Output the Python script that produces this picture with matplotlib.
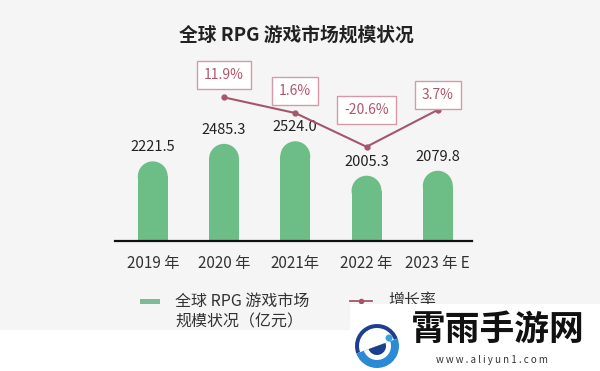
import matplotlib
matplotlib.use("Agg")
import matplotlib.pyplot as plt
from matplotlib.patches import Rectangle, Ellipse, Circle, Wedge
from matplotlib.lines import Line2D

plt.rcParams['font.family'] = ['Noto Sans CJK SC', 'DejaVu Sans']

# ---- data ----
categories = ["2019 年", "2020 年", "2021年", "2022 年", "2023 年 E"]
market_size = [2221.5, 2485.3, 2524.0, 2005.3, 2079.8]
growth_cats = [1, 2, 3, 4]
growth_rate = [11.9, 1.6, -20.6, 3.7]
growth_labels = ["11.9%", "1.6%", "-20.6%", "3.7%"]
title = "全球 RPG 游戏市场规模状况"
legend_bar = "全球 RPG 游戏市场\n规模状况（亿元）"
legend_line = "增长率"

# ---- style / layout ----
W, H = 600, 371
bar_color = "#6dbe86"
line_color = "#a5566c"
label_box_y = [0.917, 0.829, 0.724, 0.807]  # axes fraction positions of % boxes

fig = plt.figure(figsize=(6, 3.71), dpi=100)
fig.patch.set_facecolor("#f5f5f5")
fig.patches.append(Rectangle((0, 0), 1, 1 - 330 / H, transform=fig.transFigure,
                             facecolor="white", edgecolor="none", zorder=0))

ax_left, ax_right = 115 / W, 472 / W
ax_bottom, ax_top = 1 - 241 / H, 1 - 60 / H
ax = fig.add_axes([ax_left, ax_bottom, ax_right - ax_left, ax_top - ax_bottom])
ax.set_facecolor("none")
ax.set_xlim(-0.53, 4.48)
ylo, yhi = 1022, 3748
ax.set_ylim(ylo, yhi)

x = list(range(len(categories)))
bar_w = 0.42
px_per_unit_y = 181 / (yhi - ylo)
cap_h = (15 / px_per_unit_y)
ax.bar(x, [v - cap_h for v in market_size], width=bar_w, color=bar_color, zorder=2)
for xi, v in zip(x, market_size):
    ax.add_patch(Ellipse((xi, v - cap_h), bar_w, 2 * cap_h, facecolor=bar_color,
                         edgecolor="none", zorder=2))
    ax.annotate(f"{v:.1f}", (xi, v), xytext=(0, 5), textcoords="offset points",
                ha="center", va="bottom", fontsize=10.5, color="#222222", zorder=5)

for s in ["top", "right", "left"]:
    ax.spines[s].set_visible(False)
ax.spines["bottom"].set_linewidth(1.6)
ax.spines["bottom"].set_color("#111111")
ax.set_yticks([])
ax.set_xticks(x)
ax.set_xticklabels(categories, fontsize=11, color="#333333")
ax.tick_params(axis="x", length=0, pad=10)

ax2 = ax.twinx()
ax2.set_ylim(-82.6, 36.5)
ax2.set_axis_off()
ax2.plot(growth_cats, growth_rate, color=line_color, lw=1.5, marker="o",
         markersize=3.5, zorder=4)
for gx, lab, yf in zip(growth_cats, growth_labels, label_box_y):
    ax2.text(gx, yf, lab, transform=ax2.get_xaxis_transform(), ha="center",
             va="center", fontsize=10, color="#b0566a", zorder=6,
             bbox=dict(boxstyle="square,pad=0.5", facecolor="white",
                       edgecolor="#d59aa8", linewidth=1.0))

fig.text(296 / W, 1 - 35 / H, title, ha="center", va="center", fontsize=13.5,
         fontweight="bold", color="#222222")

# legend
fig.patches.append(Rectangle((140 / W, 1 - 304 / H), 20 / W, 5 / H,
                             transform=fig.transFigure, facecolor="#7dba95",
                             edgecolor="none"))
fig.text(175 / W, 1 - 312 / H, legend_bar, ha="left", va="center", fontsize=11.5,
         color="#333333", linespacing=1.3)
fig.lines.append(Line2D([350 / W, 372 / W], [1 - 301 / H, 1 - 301 / H],
                        transform=fig.transFigure, color=line_color, lw=1.3))
fig.lines.append(Line2D([361 / W], [1 - 301 / H], transform=fig.transFigure,
                        color=line_color, marker="o", markersize=3, lw=0))
fig.text(388 / W, 1 - 300 / H, legend_line, ha="left", va="center", fontsize=11.5,
         color="#333333")

# watermark overlay
fig.patches.append(Rectangle((350 / W, 0), 250 / W, (371 - 304) / H,
                             transform=fig.transFigure, facecolor="white",
                             edgecolor="none", zorder=10))
wm_ax = fig.add_axes([350 / W, 0, 250 / W, 67 / H])
wm_ax.set_xlim(350, 600)
wm_ax.set_ylim(0, 67)
wm_ax.set_axis_off()
wm_ax.set_zorder(11)
lcx, lcy = 377, 371 - 346
wm_ax.add_patch(Wedge((lcx, lcy), 22, 20, 200, width=4, facecolor="#1d3f8f"))
wm_ax.add_patch(Wedge((lcx, lcy), 22, 200, 380, facecolor="#2b8ad6"))
wm_ax.add_patch(Wedge((lcx, lcy), 14, 200, 380, facecolor="white"))
wm_ax.add_patch(Wedge((lcx, lcy), 9, 200, 380, facecolor="#1d3f8f"))
wm_ax.add_patch(Circle((lcx + 12, lcy + 8), 3.5, facecolor="#3aa0e6"))
wm_ax.text(498, 371 - 329, "霄雨手游网", ha="center", va="center", fontsize=25,
           fontweight="heavy", color="#111111")
wm_ax.text(492, 371 - 360, "w w w . a l i y u n 1 . c o m", ha="center", va="center",
           fontsize=7, color="#333333")

fig.savefig("out.png", dpi=100)
